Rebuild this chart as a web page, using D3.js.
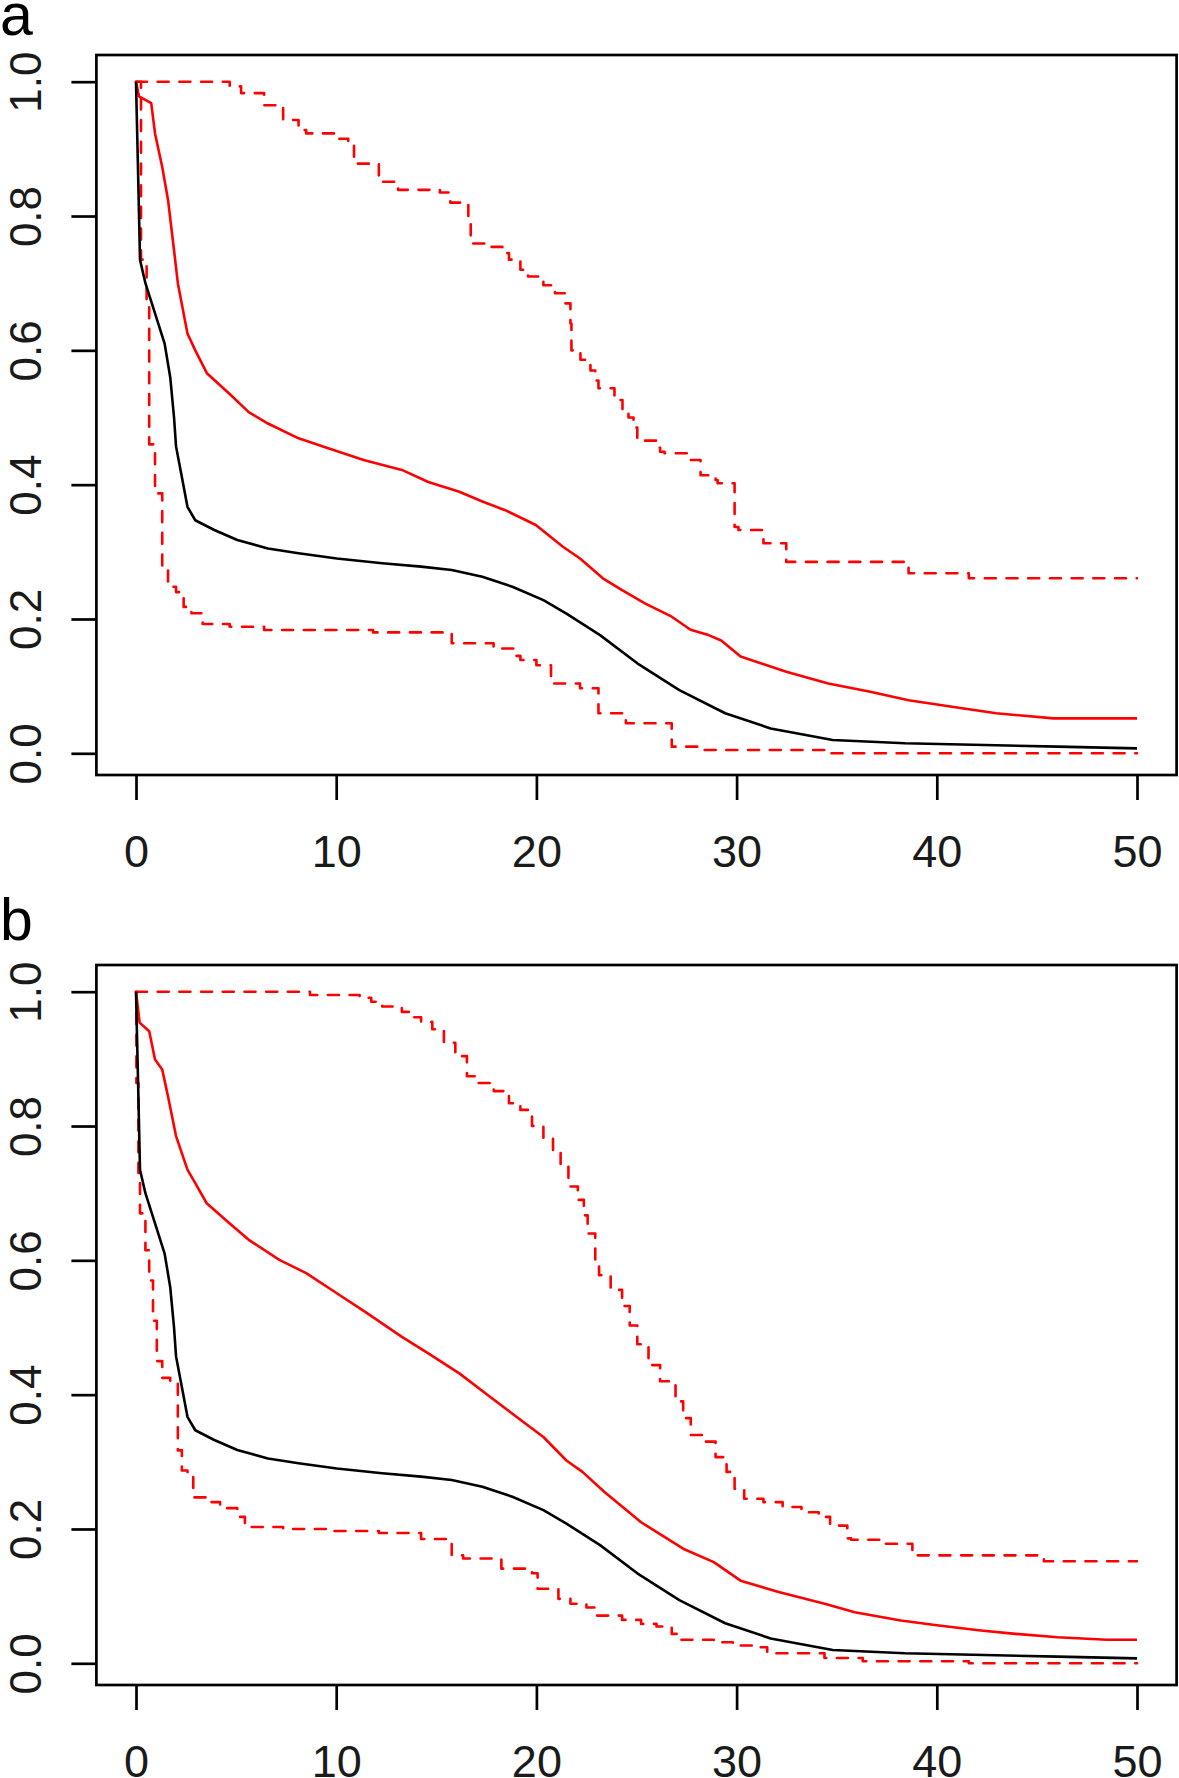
<!DOCTYPE html>
<html>
<head>
<meta charset="utf-8">
<script src="https://cdn.jsdelivr.net/npm/d3@7"></script>
<style>
  html, body { margin: 0; padding: 0; background: #ffffff; }
  svg { display: block; }
  text { font-family: "Liberation Sans", Arial, sans-serif; }
</style>
</head>
<body>
<svg id="chart" width="1179" height="1778"></svg>
<script>
// ---------------- DATA ----------------
const panelLabels = ["a", "b"];
const xTicks = [0, 10, 20, 30, 40, 50];
const yTicks = [0.0, 0.2, 0.4, 0.6, 0.8, 1.0];
const yTickLabels = ["0.0", "0.2", "0.4", "0.6", "0.8", "1.0"];

// Black estimate (same in both panels), [time, survival]
const estimateA = [[0,1],[0.1,0.87],[0.2,0.735],[0.47,0.70],[0.95,0.655],[1.43,0.61],[1.71,0.56],[1.9,0.50],[2.0,0.457],[2.3,0.41],[2.57,0.367],[2.96,0.347],[3.91,0.3325],[5.06,0.3176],[6.59,0.305],[8.12,0.298],[10.03,0.290],[12.3,0.283],[14.24,0.278],[15.77,0.273],[17.3,0.263],[18.8,0.248],[20.35,0.228],[21.5,0.208],[23.18,0.176],[25.04,0.134],[27.14,0.094],[29.43,0.0596],[31.7,0.037],[34.8,0.0198],[38.4,0.0149],[46.03,0.0099],[50,0.0074]];
const estimateB = estimateA;

// Panel a red solid
const redSolidA = [[0,1],[0.15,0.978],[0.76,0.968],[0.95,0.923],[1.31,0.873],[1.6,0.824],[1.9,0.749],[2.09,0.70],[2.57,0.625],[2.96,0.60],[3.54,0.566],[4.68,0.535],[5.63,0.508],[6.59,0.491],[8.12,0.469],[9.64,0.454],[11.37,0.4367],[13.28,0.422],[14.6,0.404],[16.15,0.3895],[17.3,0.375],[18.44,0.362],[19.97,0.340],[21.31,0.308],[22.18,0.29],[23.32,0.2606],[24.28,0.243],[25.42,0.2233],[26.76,0.2034],[27.7,0.184],[28.6,0.176],[29.23,0.168],[30.2,0.144],[32.48,0.1215],[34.58,0.104],[36.68,0.0917],[38.59,0.079],[41.26,0.067],[42.97,0.0596],[45.83,0.052],[50,0.052]];

// Panel a red dashed upper (step)
const redUpperA = [[0,1],[4.68,0.993],[5.25,0.983],[6.4,0.965],[7.35,0.943],[8.12,0.928],[8.5,0.923],[10.03,0.915],[10.6,0.905],[10.89,0.878],[12.13,0.851],[13.09,0.839],[15.18,0.835],[15.7,0.82],[16.6,0.79],[16.72,0.759],[17.48,0.754],[18.3,0.745],[18.63,0.735],[19.2,0.72],[19.58,0.71],[20.35,0.697],[20.93,0.685],[21.45,0.67],[21.7,0.64],[21.75,0.60],[22.2,0.586],[22.7,0.57],[22.94,0.555],[23.1,0.5435],[23.9,0.526],[24.3,0.51],[24.6,0.50],[24.85,0.485],[25.04,0.4655],[26.0,0.455],[26.18,0.449],[26.4,0.4467],[27.62,0.4367],[28.2,0.414],[28.95,0.407],[29.05,0.402],[29.9,0.337],[30.09,0.3325],[31.34,0.3127],[32.48,0.285],[38.59,0.268],[41.6,0.2606],[50,0.2606]];

// Panel a red dashed lower (step)
const redLowerA = [[0,1],[0.25,0.735],[0.53,0.675],[0.66,0.46],[0.95,0.387],[1.31,0.278],[1.6,0.248],[2.0,0.24],[2.38,0.218],[2.77,0.2085],[3.33,0.1925],[4.68,0.1885],[6.4,0.1836],[11.84,0.180],[15.77,0.1638],[17.86,0.156],[18.9,0.145],[19.2,0.139],[20.0,0.131],[20.73,0.104],[22.18,0.0968],[23.1,0.0596],[24.47,0.0447],[26.76,0.0099],[28.3,0.005],[34.6,0.0],[50,0]];

// Panel b red solid
const redSolidB = [[0,1],[0.18,0.954],[0.66,0.941],[0.95,0.899],[1.31,0.884],[1.6,0.844],[2.0,0.785],[2.57,0.735],[2.96,0.715],[3.53,0.685],[4.68,0.655],[5.63,0.6305],[7.16,0.6007],[8.5,0.581],[10.03,0.551],[11.56,0.521],[13.28,0.486],[14.6,0.4615],[16.15,0.4317],[17.68,0.397],[19.0,0.367],[20.35,0.337],[21.5,0.302],[22.3,0.285],[23.4,0.255],[25.23,0.21],[27.33,0.1706],[28.86,0.1507],[30.2,0.123],[32.1,0.106],[34.4,0.0886],[35.9,0.076],[38.2,0.0637],[40.1,0.0562],[42.2,0.0488],[43.93,0.0438],[46.03,0.0388],[48.5,0.035],[50,0.035]];

// Panel b red dashed upper (step)
const redUpperB = [[0,1],[8.69,0.995],[11.17,0.991],[11.75,0.985],[12.3,0.978],[13.28,0.97],[13.85,0.962],[14.24,0.955],[14.8,0.944],[15.38,0.924],[15.95,0.904],[16.53,0.874],[17.1,0.864],[17.87,0.852],[18.63,0.834],[19.2,0.824],[19.78,0.80],[20.35,0.782],[20.83,0.76],[21.21,0.74],[21.6,0.71],[22.07,0.69],[22.37,0.667],[22.56,0.64],[22.94,0.60],[23.13,0.578],[23.71,0.556],[24.28,0.532],[24.66,0.503],[25.04,0.475],[25.6,0.444],[26.18,0.42],[26.95,0.39],[27.33,0.365],[27.71,0.34],[28.28,0.33],[28.95,0.307],[29.5,0.285],[29.9,0.26],[30.38,0.245],[31.34,0.24],[32.3,0.2327],[33.24,0.225],[34.1,0.218],[34.67,0.205],[35.53,0.186],[35.72,0.184],[37.44,0.178],[38.78,0.1607],[45.35,0.152],[50,0.152]];

// Panel b red dashed lower (step)
const redLowerB = [[0,1],[0.02,0.864],[0.12,0.73],[0.2,0.67],[0.47,0.615],[0.66,0.57],[0.85,0.51],[1.04,0.45],[1.31,0.425],[1.71,0.417],[2.09,0.317],[2.29,0.287],[2.57,0.285],[2.86,0.247],[3.72,0.24],[4.2,0.231],[5.06,0.218],[5.44,0.205],[5.63,0.203],[7.35,0.2],[9.84,0.197],[12.13,0.194],[14.24,0.185],[15.77,0.1607],[16.34,0.156],[18.25,0.141],[19.78,0.134],[20.06,0.111],[21.1,0.096],[21.7,0.0886],[22.5,0.083],[22.94,0.071],[24.28,0.0646],[25.23,0.0587],[26.0,0.0547],[26.76,0.0438],[27.14,0.035],[28.86,0.0313],[29.81,0.0264],[30.76,0.0239],[31.53,0.0149],[34.39,0.008],[36.3,0.003],[41.6,0],[50,0]];

const panels = [
  { label: panelLabels[0], offset: 0,   labelY: 35, est: estimateA, solid: redSolidA, upper: redUpperA, lower: redLowerA },
  { label: panelLabels[1], offset: 910, labelY: 30, est: estimateB, solid: redSolidB, upper: redUpperB, lower: redLowerB }
];

// ---------------- DRAW ----------------
const svg = d3.select("#chart");
svg.append("rect").attr("width", 1179).attr("height", 1778).attr("fill", "#fff");

const box = { left: 96.4, right: 1176.6, top: 55, bottom: 775 };
const x = d3.scaleLinear().domain([0, 50]).range([136, 1137]);
const y = d3.scaleLinear().domain([0, 1]).range([753.3, 81.7]);

const lineSmooth = d3.line().x(d => x(d[0])).y(d => y(d[1])).curve(d3.curveLinear);
const lineStep = d3.line().x(d => x(d[0])).y(d => y(d[1])).curve(d3.curveStepAfter);

panels.forEach(p => {
  const g = svg.append("g").attr("transform", `translate(0,${p.offset})`);

  // panel letter
  svg.append("text")
    .attr("x", 0).attr("y", p.offset + p.labelY)
    .attr("font-size", 59).attr("fill", "#000")
    .text(p.label);

  // curves
  g.append("path").attr("d", lineStep(p.upper))
    .attr("fill", "none").attr("stroke", "#ff0000").attr("stroke-width", 2.6)
    .attr("stroke-dasharray", "11,10.7").attr("stroke-linecap", "round").attr("stroke-linejoin", "round");
  g.append("path").attr("d", lineStep(p.lower))
    .attr("fill", "none").attr("stroke", "#ff0000").attr("stroke-width", 2.6)
    .attr("stroke-dasharray", "11,10.7").attr("stroke-linecap", "round").attr("stroke-linejoin", "round");
  g.append("path").attr("d", lineSmooth(p.solid))
    .attr("fill", "none").attr("stroke", "#ff0000").attr("stroke-width", 2.6)
    .attr("stroke-linejoin", "round");
  g.append("path").attr("d", lineSmooth(p.est))
    .attr("fill", "none").attr("stroke", "#000").attr("stroke-width", 2.6)
    .attr("stroke-linejoin", "round");

  // box
  g.append("rect")
    .attr("x", box.left).attr("y", box.top)
    .attr("width", box.right - box.left).attr("height", box.bottom - box.top)
    .attr("fill", "none").attr("stroke", "#000").attr("stroke-width", 2.7);

  // x axis
  const xa = g.append("g").attr("transform", `translate(0,${box.bottom})`)
    .call(d3.axisBottom(x).tickValues(xTicks).tickSize(25).tickPadding(35).tickFormat(d3.format("d")));
  xa.select(".domain").remove();
  xa.selectAll("line").attr("stroke", "#000").attr("stroke-width", 2.7);
  xa.selectAll("text").attr("font-size", 45).attr("fill", "#1a1a1a")
    .attr("font-family", "'Liberation Sans', Arial, sans-serif");

  // y axis
  const ya = g.append("g").attr("transform", `translate(${box.left},0)`)
    .call(d3.axisLeft(y).tickValues(yTicks).tickSize(25).tickFormat((d, i) => yTickLabels[i]));
  ya.select(".domain").remove();
  ya.selectAll("line").attr("stroke", "#000").attr("stroke-width", 2.7);
  ya.selectAll("text")
    .attr("x", 0).attr("y", 0).attr("dy", 0)
    .attr("text-anchor", "middle")
    .attr("transform", `translate(${40.5 - box.left},0) rotate(-90)`)
    .attr("font-size", 44).attr("fill", "#1a1a1a")
    .attr("font-family", "'Liberation Sans', Arial, sans-serif");
});
</script>
</body>
</html>
